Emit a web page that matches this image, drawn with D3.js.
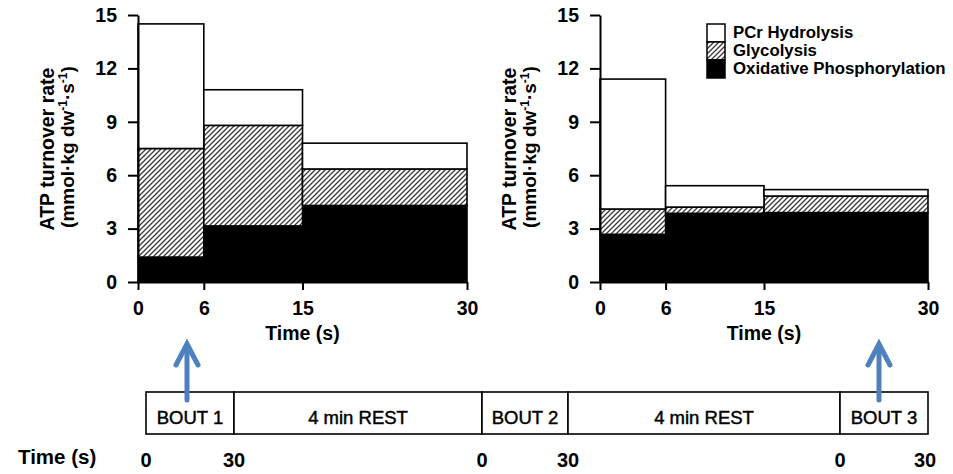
<!DOCTYPE html>
<html><head><meta charset="utf-8">
<script src="https://cdn.jsdelivr.net/npm/d3@7"></script>
<style>
body{margin:0;background:#fff}
svg{display:block}
text{font-family:"Liberation Sans",Arial,Helvetica,sans-serif}
</style></head>
<body><svg id="c" width="953" height="474"></svg>
<script>
// ---------- data ----------
const intervalEdges = [0, 6, 15, 30];          // time interval boundaries (s)
const xTicks = [0, 6, 15, 30];
const yTicks = [0, 3, 6, 9, 12, 15];
const seriesNames = ["PCr Hydrolysis", "Glycolysis", "Oxidative Phosphorylation"];

const bout1Oxidative  = [1.4, 3.15, 4.3];
const bout1Glycolysis = [6.1, 5.65, 2.05];
const bout1PCr        = [7.0, 2.0, 1.45];

const bout3Oxidative  = [2.68, 3.86, 3.9];
const bout3Glycolysis = [1.42, 0.35, 0.93];
const bout3PCr        = [7.3, 1.2, 0.36];

const timelineSegments = ["BOUT 1", "4 min REST", "BOUT 2", "4 min REST", "BOUT 3"];
const timelineTicks = ["0", "30", "0", "30", "0", "30"];
const yTitle1 = "ATP turnover rate";
const xTitle = "Time (s)";

// ---------- drawing ----------
const svg = d3.select("#c");
const defs = svg.append("defs");
const pat = defs.append("pattern").attr("id","hatch").attr("patternUnits","userSpaceOnUse")
  .attr("width",5).attr("height",5);
pat.append("rect").attr("width",5).attr("height",5).attr("fill","#fff");
pat.append("path").attr("d","M-1,1 L1,-1 M0,5 L5,0 M4,6 L6,4")
  .attr("stroke","#3a3a3a").attr("stroke-width",1.3);

const fills = {ox:"#000", gly:"url(#hatch)", pcr:"#fff"};
const y = d3.scaleLinear().domain([0,15]).range([282,15]);

const panels = [
  {x0:138, x1:467, ox:bout1Oxidative, gly:bout1Glycolysis, pcr:bout1PCr, legend:false},
  {x0:600, x1:928, ox:bout3Oxidative, gly:bout3Glycolysis, pcr:bout3PCr, legend:true}
];

panels.forEach(p => {
  const x = d3.scaleLinear().domain([0,30]).range([p.x0, p.x1]);
  const g = svg.append("g");
  const rows = p.ox.map((v,i) => ({start:intervalEdges[i], end:intervalEdges[i+1], ox:v, gly:p.gly[i], pcr:p.pcr[i]}));
  const stacked = d3.stack().keys(["ox","gly","pcr"])(rows);
  stacked.forEach(layer => {
    g.selectAll(null).data(layer).enter().append("rect")
      .attr("x", d => x(d.data.start))
      .attr("y", d => y(d[1]))
      .attr("width", d => x(d.data.end) - x(d.data.start))
      .attr("height", d => y(d[0]) - y(d[1]))
      .attr("fill", fills[layer.key])
      .attr("stroke","#000").attr("stroke-width",1.6);
  });

  const ya = g.append("g").attr("transform",`translate(${p.x0},0)`)
    .call(d3.axisLeft(y).tickValues(yTicks).tickSize(10).tickPadding(11).tickSizeOuter(0));
  const xa = g.append("g").attr("transform",`translate(0,${y(0)})`)
    .call(d3.axisBottom(x).tickValues(xTicks).tickSize(8).tickPadding(11).tickSizeOuter(0));
  [ya,xa].forEach(a => {
    a.select(".domain").attr("stroke","#000").attr("stroke-width",2);
    a.selectAll(".tick line").attr("stroke","#000").attr("stroke-width",2);
    a.selectAll(".tick text").attr("fill","#000").attr("font-size",19.5).attr("font-weight","bold")
      .attr("font-family",'"Liberation Sans",Arial,sans-serif');
  });

  g.append("text").attr("x",(p.x0+p.x1)/2).attr("y",340).attr("text-anchor","middle")
    .attr("font-size",19.5).attr("font-weight","bold").text(xTitle);

  const yc = 149;
  g.append("text").attr("transform",`translate(${p.x0-84},${yc}) rotate(-90)`)
    .attr("text-anchor","middle").attr("font-size",19.5).attr("font-weight","bold").text(yTitle1);
  const t2 = g.append("text").attr("transform",`translate(${p.x0-64},${yc-2}) rotate(-90)`)
    .attr("text-anchor","middle").attr("font-size",19).attr("font-weight","bold");
  t2.append("tspan").text("(mmol·kg dw");
  t2.append("tspan").attr("dy",-7).attr("font-size",12).text("-1");
  t2.append("tspan").attr("dy",7).text("·s");
  t2.append("tspan").attr("dy",-7).attr("font-size",12).text("-1");
  t2.append("tspan").attr("dy",7).text(")");

  if (p.legend) {
    const keys = ["pcr","gly","ox"];
    const lg = svg.append("g").attr("transform","translate(707,24)");
    seriesNames.forEach((name,i) => {
      lg.append("rect").attr("x",0).attr("y",i*18).attr("width",18).attr("height",18)
        .attr("fill",fills[keys[i]]).attr("stroke","#000").attr("stroke-width",1.5);
      lg.append("text").attr("x",26).attr("y",i*18+13.5).attr("font-size",16.8)
        .attr("font-weight","bold").text(name);
    });
  }
});

// ---------- bottom timeline ----------
const tlEdges = [146, 234, 482, 568, 840, 928];
const tlTop = 392, tlBottom = 434;
const tl = svg.append("g");
timelineSegments.forEach((s,i) => {
  tl.append("rect").attr("x",tlEdges[i]).attr("y",tlTop)
    .attr("width",tlEdges[i+1]-tlEdges[i]).attr("height",tlBottom-tlTop)
    .attr("fill","#fff").attr("stroke","#000").attr("stroke-width",1.6);
  tl.append("text").attr("x",(tlEdges[i]+tlEdges[i+1])/2).attr("y",424)
    .attr("text-anchor","middle").attr("font-size",18.5).attr("fill","#000")
    .attr("stroke","#000").attr("stroke-width",0.45).text(s);
});
timelineTicks.forEach((t,i) => {
  tl.append("text").attr("x",tlEdges[i] + (i===5?-3:0)).attr("y",467).attr("text-anchor","middle")
    .attr("font-size",20).attr("font-weight","bold").text(t);
});
tl.append("text").attr("x",18).attr("y",464).attr("font-size",20.5).attr("font-weight","bold").text(xTitle);

// arrows pointing from the timeline to bouts 1 and 3
[ (tlEdges[0]+tlEdges[1])/2 - 3, (tlEdges[4]+tlEdges[5])/2 - 5 ].forEach(ax => {
  const a = svg.append("g").attr("stroke","#4F81BD").attr("stroke-width",5)
    .attr("fill","none").attr("stroke-linecap","round").attr("stroke-linejoin","miter");
  a.append("path").attr("d",`M${ax},400 L${ax},345`);
  a.append("path").attr("d",`M${ax-11},365 L${ax},344 L${ax+11},365`);
});
</script></body></html>
